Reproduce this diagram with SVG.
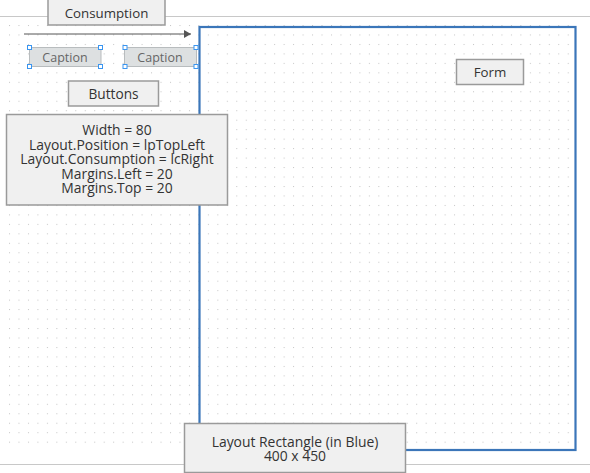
<svg xmlns="http://www.w3.org/2000/svg" width="590" height="473" viewBox="0 0 590 473">
<style>
.box{fill:#f0f0f0;stroke:#9a9a9a;stroke-width:1.5}
.cap{fill:#dde0e1;stroke:#b8bcbe;stroke-width:1}
.h{fill:#fff;stroke:#3a95f0;stroke-width:1}
.t{font-family:"Open Sans","Noto Sans",sans-serif;font-size:13.3px;fill:#333;text-anchor:middle}
.m{font-size:13.9px}
.ct{font-family:"Open Sans","Noto Sans",sans-serif;font-size:12.5px;fill:#666;text-anchor:middle}
.rule{stroke:#c8c8c8;stroke-width:1.2}
</style>
<defs>
<pattern id="dots" x="9" y="25" width="9.47" height="9.47" patternUnits="userSpaceOnUse">
<rect x="0" y="0" width="1" height="1" fill="#c4c4c4"/>
</pattern>
<marker id="arr" markerWidth="8" markerHeight="8" refX="7" refY="4" orient="auto" markerUnits="userSpaceOnUse">
<path d="M0,0 L7,4 L0,8 z" fill="#555"/>
</marker>
</defs>
<rect width="590" height="473" fill="#fff"/>
<line class="rule" x1="0" y1="16.5" x2="590" y2="16.5"/>
<line class="rule" x1="0" y1="464.5" x2="590" y2="464.5"/>
<rect x="9" y="25" width="561" height="419" fill="url(#dots)"/>
<g id="layout-rect">
<rect x="199.5" y="27" width="376" height="423" fill="none" stroke="#3b76b9" stroke-width="2.2"/>
</g>
<g id="connectors">
<line x1="24" y1="34" x2="191" y2="34" stroke="#555" stroke-width="1" marker-end="url(#arr)"/>
</g>
<g id="consumption">
<rect class="box" x="48" y="-1" width="117" height="26"/>
<text class="t" x="106.5" y="18">Consumption</text>
</g>
<g id="caption1">
<rect class="cap" x="29.5" y="47.5" width="71.5" height="19"/>
<text class="ct" x="65" y="61.5">Caption</text>
<rect class="h" x="27.5" y="45.5" width="4" height="4"/>
<rect class="h" x="98.5" y="45.5" width="4" height="4"/>
<rect class="h" x="27.5" y="64.5" width="4" height="4"/>
<rect class="h" x="98.5" y="64.5" width="4" height="4"/>
</g>
<g id="caption2">
<rect class="cap" x="124.5" y="47.5" width="72" height="19"/>
<text class="ct" x="160" y="61.5">Caption</text>
<rect class="h" x="123" y="45.5" width="4" height="4"/>
<rect class="h" x="194" y="45.5" width="4" height="4"/>
<rect class="h" x="123" y="64.5" width="4" height="4"/>
<rect class="h" x="194" y="64.5" width="4" height="4"/>
</g>
<g id="buttons">
<rect class="box" x="68.5" y="81" width="90" height="25"/>
<text class="t" x="113.5" y="98.5" style="font-size:13.7px">Buttons</text>
</g>
<g id="properties">
<rect class="box" x="6.5" y="114.5" width="221" height="90.5"/>
<text class="t m" x="117" y="135"><tspan x="117" y="135">Width = 80</tspan><tspan x="117" y="149.5">Layout.Position = lpTopLeft</tspan><tspan x="117" y="164">Layout.Consumption = lcRight</tspan><tspan x="117" y="178.5">Margins.Left = 20</tspan><tspan x="117" y="193">Margins.Top = 20</tspan></text>
</g>
<g id="form">
<rect class="box" x="456.5" y="59.5" width="67" height="25"/>
<text class="t" x="490" y="77">Form</text>
</g>
<g id="layout-label">
<rect class="box" x="184.5" y="423.5" width="221" height="49"/>
<text class="t m" x="295" y="446.5"><tspan x="295" y="446.5">Layout Rectangle (in Blue)</tspan><tspan x="295" y="460.8">400 x 450</tspan></text>
</g>
</svg>
